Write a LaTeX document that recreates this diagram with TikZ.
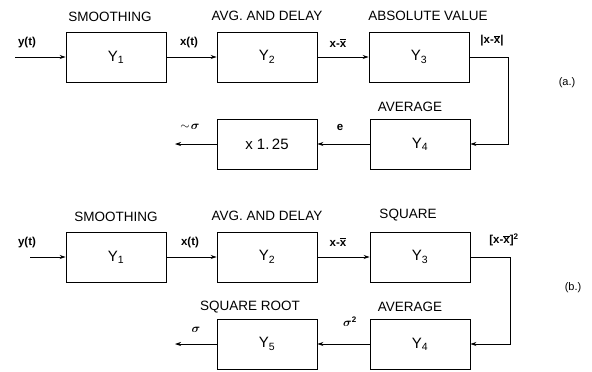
\documentclass[tikz,border=0pt]{standalone}
\usepackage{amsmath}
\usepackage{fontspec}
\setmainfont{Liberation Sans}
\usetikzlibrary{arrows.meta, positioning}

\newcommand{\xbar}{$\overline{\hbox{x}}$}

\begin{document}
\begin{tikzpicture}[x=1pt, y=-1pt,
    block/.style={rectangle, draw, line width=0.9pt, minimum width=100pt, minimum height=50pt, font=\fontsize{15}{17}\selectfont},
    title/.style={font=\fontsize{13.5}{15}\selectfont},
    sig/.style={font=\fontsize{11.5}{13}\selectfont\bfseries},
    tag/.style={font=\fontsize{11}{13}\selectfont},
    arrow/.style={-{Stealth[length=6pt,width=4pt]}, line width=0.7pt}
]
    \useasboundingbox (0,0) rectangle (592,372);

    % (a.) absolute value
    \node[block] (smoothA) at (116,57) {Y\textsubscript{1}};
    \node[block] (delayA) at (267,57) {Y\textsubscript{2}};
    \node[block] (absA) at (419,57) {Y\textsubscript{3}};
    \node[block] (avgA) at (420,144) {Y\textsubscript{4}};
    \node[block] (scaleA) at (267,144) {x 1.\,25};

    \node[title] (tSmoothA) at (110,17) {SMOOTHING};
    \node[title] (tDelayA) at (267,16) {AVG. AND DELAY};
    \node[title] (tAbsA) at (428,16) {ABSOLUTE VALUE};
    \node[title] (tAvgA) at (410,107) {AVERAGE};

    \node[sig] (yA) at (27,43) {y(t)};
    \node[sig] (xA) at (189,43) {x(t)};
    \node[sig] (devA) at (338,43) {x-\xbar};
    \node[sig] (absDevA) at (492,41) {|x-\xbar|};
    \node[sig] (eA) at (340,127) {e};
    \node[sig] (sigA) at (190,127) {\large$\sim\!\boldsymbol{\sigma}$};
    \node[tag] (tagA) at (567,83) {(a.)};

    \coordinate (inA) at (15,57);
    \coordinate (bendA) at (508,57);
    \coordinate (outA) at (175,144);

    \draw[arrow] (inA) -- (smoothA);
    \draw[arrow] (smoothA) -- (delayA);
    \draw[arrow] (delayA) -- (absA);
    \draw[arrow] (absA.east) -- (bendA) |- (avgA.east);
    \draw[arrow] (avgA) -- (scaleA);
    \draw[arrow] (scaleA) -- (outA);

    % (b.) square
    \node[block] (smoothB) at (116,257) {Y\textsubscript{1}};
    \node[block] (delayB) at (267,257) {Y\textsubscript{2}};
    \node[block] (sqB) at (420,257) {Y\textsubscript{3}};
    \node[block] (avgB) at (420,344) {Y\textsubscript{4}};
    \node[block] (rootB) at (267,344) {Y\textsubscript{5}};

    \node[title] (tSmoothB) at (116,217) {SMOOTHING};
    \node[title] (tDelayB) at (267,216) {AVG. AND DELAY};
    \node[title] (tSqB) at (408,215) {SQUARE};
    \node[title] (tRootB) at (250,307) {SQUARE ROOT};
    \node[title] (tAvgB) at (410,307) {AVERAGE};

    \node[sig] (yB) at (27,243) {y(t)};
    \node[sig] (xB) at (190,243) {x(t)};
    \node[sig] (devB) at (338,242) {x-\xbar};
    \node[sig] (sqDevB) at (504,240) {[x-\xbar]\textsuperscript{2}};
    \node[sig] (varB) at (350,322) {\large$\boldsymbol{\sigma}^{\mathbf{2}}$};
    \node[sig] (sigB) at (196,330) {\large$\boldsymbol{\sigma}$};
    \node[tag] (tagB) at (573,288) {(b.)};

    \coordinate (inB) at (30,257);
    \coordinate (bendB) at (510,257);
    \coordinate (outB) at (175,344);

    \draw[arrow] (inB) -- (smoothB);
    \draw[arrow] (smoothB) -- (delayB);
    \draw[arrow] (delayB) -- (sqB);
    \draw[arrow] (sqB.east) -- (bendB) |- (avgB.east);
    \draw[arrow] (avgB) -- (rootB);
    \draw[arrow] (rootB) -- (outB);
\end{tikzpicture}
\end{document}
